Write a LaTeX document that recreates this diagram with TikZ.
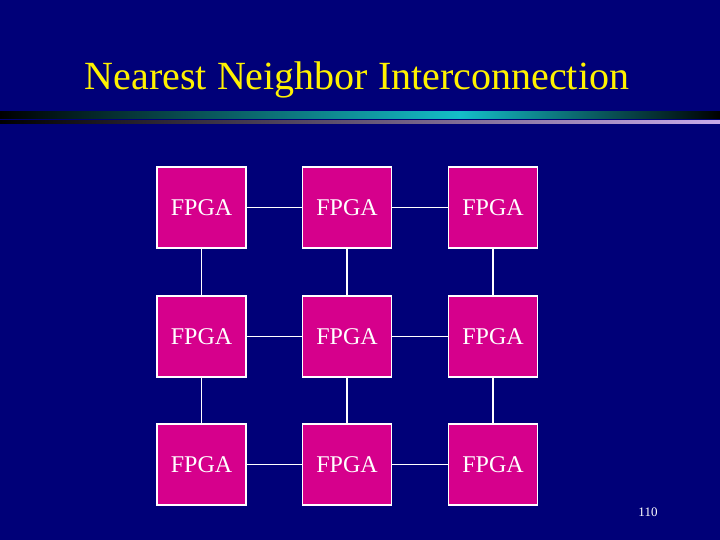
\documentclass[tikz,border=0pt]{standalone}
\usepackage{fontspec}
\setmainfont{Liberation Serif}
\definecolor{bg}{RGB}{0,0,120}
\definecolor{fp}{RGB}{214,0,140}
\definecolor{tealc}{RGB}{20,190,200}
\definecolor{lil}{RGB}{200,170,235}
\begin{document}
\begin{tikzpicture}[x=1pt,y=-1pt,
  fpga/.style={draw=white,line width=1.6pt,fill=fp,minimum width=89pt,minimum height=81pt,inner sep=0pt,text=white,font=\fontsize{24}{24}\selectfont},
  link/.style={draw=white,line width=1.6pt}]
\fill[bg] (0,0) rectangle (720,540);
\useasboundingbox (0,0) rectangle (720,540);
\shade[left color=black,right color=tealc] (0,112) rectangle (460,119);
\shade[left color=tealc,right color=black] (460,112) rectangle (720,119);
\shade[left color=black,right color=lil] (0,121) rectangle (720,124);
\node[text=yellow,font=\fontsize{40}{40}\selectfont] (title) at (357,80) {Nearest Neighbor Interconnection};
\foreach \c/\x in {1/201.5,2/347,3/493}{
  \foreach \r/\y in {1/207.5,2/336.5,3/464.5}{
    \node[fpga] (b\r\c) at (\x,\y) {FPGA};
  }}
\foreach \r in {1,2,3}{
  \draw[link] (b\r1) -- (b\r2);
  \draw[link] (b\r2) -- (b\r3);
  \draw[link] (b1\r) -- (b2\r);
  \draw[link] (b2\r) -- (b3\r);
}
\node[text=white,font=\fontsize{13}{13}\selectfont] (pg) at (648,512) {110};
\end{tikzpicture}
\end{document}
